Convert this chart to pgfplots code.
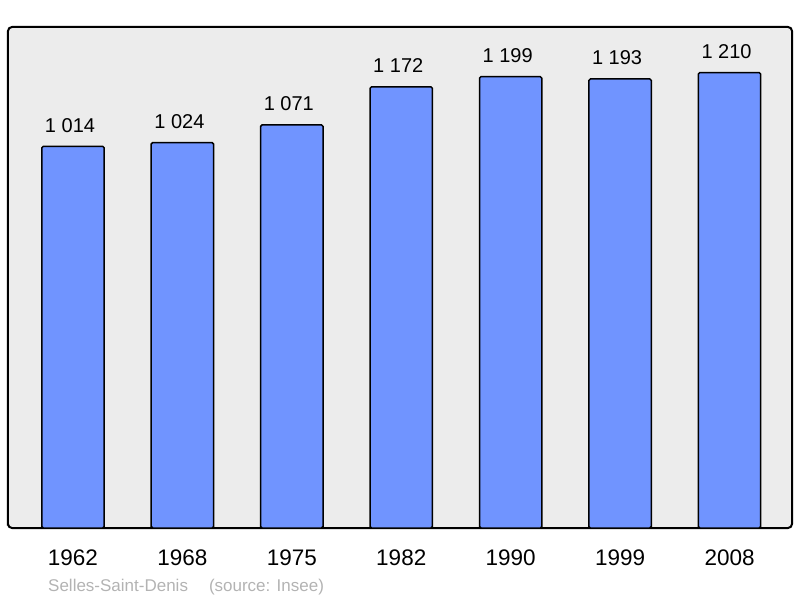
\documentclass[border=0pt]{standalone}
\usepackage{pgfplots}
\pgfplotsset{compat=1.18}
\usepackage{fontspec}
\setmainfont{Liberation Sans}
\definecolor{barblue}{HTML}{7094FF}
\definecolor{panel}{HTML}{ECECEC}
\definecolor{srcgray}{HTML}{B3B3B3}

\begin{document}
\begin{tikzpicture}
\begin{axis}[
  name=main,
  at={(0pt,0pt)}, anchor=south west,
  scale only axis,
  width=784pt, height=501pt,
  xmin=-0.594, xmax=6.571,
  ymin=0, ymax=1331,
  axis background/.style={fill=panel},
  axis line style={line width=2pt, rounded corners=4pt},
  ytick=\empty,
  xtick={0,...,6},
  xticklabels={1962,1968,1975,1982,1990,1999,2008},
  major tick length=0pt,
  xticklabel style={anchor=base, yshift=-37pt, font=\fontsize{22.5}{26}\selectfont},
  ybar, bar width=0.57,
  point meta=explicit symbolic,
  nodes near coords,
  nodes near coords style={anchor=base, yshift=14pt, xshift=-3pt, font=\fontsize{20}{24}\selectfont, text=black},
]
\addplot[fill=barblue, draw=black, line width=1.5pt, rounded corners=1.5pt]
  coordinates {(0,1014)[1 014] (1,1024)[1 024] (2,1071)[1 071] (3,1172)[1 172]
               (4,1199)[1 199] (5,1193)[1 193] (6,1210)[1 210]};
\end{axis}
\node[anchor=base west, inner sep=0pt, text=srcgray, font=\fontsize{17}{20}\selectfont]
  at (40pt,-63pt) {Selles-Saint-Denis\hspace{21pt}(source: Insee)};
\pgfresetboundingbox
\path[use as bounding box] (-8pt,-70pt) rectangle (792pt,528pt);
\end{tikzpicture}
\end{document}
